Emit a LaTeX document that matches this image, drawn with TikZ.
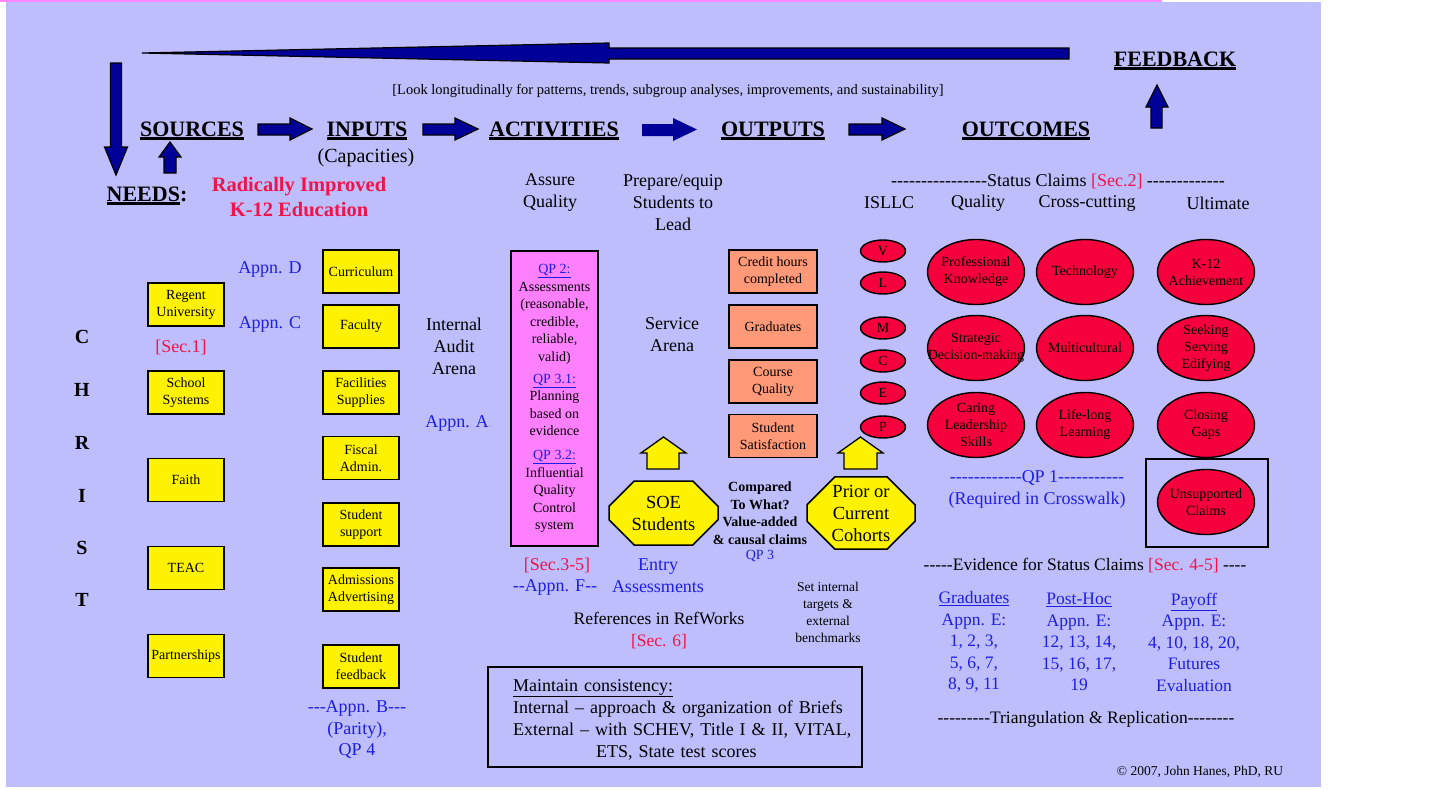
\documentclass[tikz,border=0pt]{standalone}
\usepackage{fontspec}
\setmainfont{Liberation Serif}[Ligatures=TeXOff]
\usetikzlibrary{shapes.geometric,shapes.misc}

\definecolor{lavender}{RGB}{190,190,252}
\definecolor{topline}{RGB}{255,136,255}
\definecolor{navy}{RGB}{0,0,153}
\definecolor{pinkbox}{RGB}{255,128,255}
\definecolor{salmon}{RGB}{255,153,119}
\definecolor{redfill}{RGB}{245,0,60}
\definecolor{redtext}{RGB}{240,20,75}
\definecolor{bluetext}{RGB}{30,30,225}

\newcommand{\fs}[2]{\fontsize{#1}{#2}\selectfont}
\newsavebox{\ulbox}
\newcommand{\thickul}[1]{\sbox{\ulbox}{#1}\rlap{\rule[-3.5pt]{\wd\ulbox}{2.2pt}}\usebox{\ulbox}}
\newcommand{\qp}[1]{\textcolor{bluetext}{\underline{#1}}}

\begin{document}
\begin{tikzpicture}[x=1pt, y=-1pt,
    heading/.style={anchor=base, font=\fs{22}{26}\bfseries},
    sub/.style={align=center, font=\fs{18}{22}},
    bluetx/.style={align=center, text=bluetext, font=\fs{18}{21.5}},
    redtx/.style={text=redtext, font=\fs{18}{22}},
    arrowfill/.style={fill=navy, draw=black, line width=1.2pt},
    houseup/.style={fill=yellow, draw=black, line width=1.3pt},
    ybox/.style={draw, line width=1.5pt, fill=yellow, minimum width=76, minimum height=43,
        inner sep=1pt, align=center, font=\fs{14}{17}},
    obox/.style={ybox, fill=salmon, minimum width=88},
    redell/.style={ellipse, draw, line width=1.4pt, fill=redfill, minimum width=97, minimum height=65,
        inner xsep=-16pt, inner ysep=-14pt, align=center, font=\fs{14}{17}},
    letter/.style={redell, minimum width=45, minimum height=22},
    octo/.style={chamfered rectangle, chamfered rectangle xsep=14, chamfered rectangle ysep=14,
        draw, line width=1.5pt, fill=yellow, minimum width=109, minimum height=64,
        inner xsep=0pt, inner ysep=-6pt, align=center, font=\fs{18.5}{22}},
    evid/.style={align=center, text=bluetext, font=\fs{17.5}{21.5}}
]
    \useasboundingbox (0,0) rectangle (1452,790);

    % Sfondo
    \fill[white] (0,0) rectangle (1452,790);
    \fill[lavender] (6,2) rectangle (1321,787);
    \fill[topline] (0,0) rectangle (1162,2);

    % Frecce blu
    \draw[arrowfill] (1069,48) -- (609,48) -- (609,43) -- (142,53) -- (609,63) -- (609,59) -- (1069,59) -- cycle;
    \draw[arrowfill] (110.5,63) -- (121.5,63) -- (121.5,147) -- (127.5,147) -- (116,175) -- (104.5,147) -- (110.5,147) -- cycle;
    \draw[arrowfill] (164,173) -- (164,157) -- (159,157) -- (170,142) -- (181,157) -- (176,157) -- (176,173) -- cycle;
    \draw[arrowfill] (1151,128) -- (1151,107) -- (1146,107) -- (1157,85) -- (1168,107) -- (1162,107) -- (1162,128) -- cycle;
    \draw[arrowfill] (258,124) -- (290,124) -- (290,118) -- (312,129) -- (290,140) -- (290,135) -- (258,135) -- cycle;
    \draw[arrowfill] (423,124) -- (455,124) -- (455,118) -- (478,129) -- (455,140) -- (455,135) -- (423,135) -- cycle;
    \fill[navy] (642,124) -- (673,124) -- (673,118) -- (697,129.5) -- (673,141) -- (673,136) -- (642,136) -- cycle;
    \draw[arrowfill] (849,124) -- (882,124) -- (882,118) -- (905,129) -- (882,140) -- (882,135) -- (849,135) -- cycle;

    % Titoli
    \node[heading] (sources) at (192,136) {\thickul{SOURCES}};
    \node[heading] (inputs) at (367,136) {\thickul{INPUTS}};
    \node[heading] (activities) at (554,136) {\thickul{ACTIVITIES}};
    \node[heading] (outputs) at (773,136) {\thickul{OUTPUTS}};
    \node[heading] (outcomes) at (1026,136) {\thickul{OUTCOMES}};
    \node[heading] (feedback) at (1175,66) {\thickul{FEEDBACK}};
    \node[heading] (needs) at (147,201) {\thickul{NEEDS}:};
    \node[anchor=base, font=\fs{20}{24}] (capacities) at (366,162) {(Capacities)};
    \node[align=center, text=redtext, font=\fs{20.5}{25}\bfseries] (goal) at (299,197) {Radically Improved\\K-12 Education};
    \node[font=\fs{14.5}{17}] (look) at (668,91) {[Look longitudinally for patterns, trends, subgroup analyses, improvements, and sustainability]};

    % Sottotitoli
    \node[sub] (assure) at (550,192) {Assure\\Quality};
    \node[sub] (prepare) at (673,203) {Prepare/equip\\Students to\\Lead};
    \node[sub] (status) at (1058,181) {----------------Status Claims \textcolor{redtext}{[Sec.2]} -------------};
    \node[sub] (isllc) at (889,203) {ISLLC};
    \node[sub] (quality) at (978,203) {Quality};
    \node[sub] (crosscut) at (1087,203) {Cross-cutting};
    \node[sub] (ultimate) at (1218,203) {Ultimate};

    % CHRIST
    \foreach \l/\y in {C/337,H/390,R/443,I/496,S/548,T/600}
        \node[font=\fs{20}{24}\bfseries] (christ\l) at (82,\y) {\l};

    % Sources
    \node[ybox] (regent) at (186,304.5) {Regent\\University};
    \node[ybox] (schools) at (186,392.5) {School\\Systems};
    \node[ybox] (faith) at (186,480) {Faith};
    \node[ybox] (teac) at (186,568) {TEAC};
    \node[ybox] (partners) at (186,656) {Partnerships};
    \node[redtx] (sec1) at (181,347) {[Sec.1]};

    % Inputs
    \node[ybox] (curric) at (361,271.5) {Curriculum};
    \node[ybox] (faculty) at (361,326.5) {Faculty};
    \node[ybox] (facil) at (361,392.5) {Facilities\\Supplies};
    \node[ybox] (fiscal) at (361,458) {Fiscal\\Admin.};
    \node[ybox] (support) at (361,524.5) {Student\\support};
    \node[ybox] (admiss) at (361,589.5) {Admissions\\Advertising};
    \node[ybox] (sfeed) at (361,666.5) {Student\\feedback};
    \node[bluetx] (appnD) at (270,269) {Appn. D};
    \node[bluetx] (appnC) at (270,324) {Appn. C};
    \node[bluetx] (appnB) at (357,730) {---Appn. B---\\(Parity),\\QP 4};
    \node[sub] (audit) at (454,346) {Internal\\Audit\\Arena};
    \node[bluetx] (appnA) at (457,423) {Appn. A};

    % Activities
    \node[draw, line width=1.5pt, fill=pinkbox, minimum width=87, minimum height=295, inner sep=0pt,
        align=center, font=\fs{14}{17.5}] (qpbox) at (554.5,398.5)
        {\qp{QP 2:}\\Assessments\\(reasonable,\\credible,\\reliable,\\valid)\\[4.5pt]\qp{QP 3.1:}\\Planning\\based on\\evidence\\[6.5pt]\qp{QP 3.2:}\\Influential\\Quality\\Control\\system};
    \node[redtx] (sec35) at (557,565) {[Sec.3-5]};
    \node[bluetx] (appnF) at (555,587) {--Appn. F--};
    \node[sub] (service) at (672,335) {Service\\Arena};
    \node[bluetx, font=\fs{18}{22}] (entry) at (658,576) {Entry\\Assessments};
    \node[align=center, font=\fs{17.5}{22}] (refs) at (659,631) {References in RefWorks\\\textcolor{redtext}{[Sec. 6]}};

    % Outputs
    \node[obox] (credit) at (773,271.5) {Credit hours\\completed};
    \node[obox] (grads) at (773,326.5) {Graduates};
    \node[obox] (cquality) at (773,381.5) {Course\\Quality};
    \node[obox] (satisf) at (773,436) {Student\\Satisfaction};

    % Confronti
    \draw[houseup] (647,469) -- (647,453) -- (641,453) -- (663.5,437) -- (686,453) -- (679,453) -- (679,469) -- cycle;
    \draw[houseup] (844,469) -- (844,453) -- (838,453) -- (860.5,437) -- (883,453) -- (877,453) -- (877,469) -- cycle;
    \node[octo] (soe) at (663.5,513) {SOE\\Students};
    \node[octo, minimum width=108] (cohorts) at (861,513) {Prior or\\Current\\Cohorts};
    \node[align=center, font=\fs{14}{17.5}\bfseries] (compared) at (760,513) {Compared\\To What?\\Value-added\\\& causal claims};
    \node[bluetx, font=\fs{14}{16}] (qp3) at (760,556) {QP 3};
    \node[align=center, font=\fs{13.5}{17}] (targets) at (828,612) {Set internal\\targets \&\\external\\benchmarks};

    % Coerenza
    \draw[line width=1.5pt] (488,667) rectangle (862,767);
    \node[anchor=north west, inner sep=0pt, text width=345, align=left, font=\fs{18}{22}] (consist) at (513,679)
        {\underline{Maintain consistency:}\\Internal – approach \& organization of Briefs\\External – with SCHEV, Title I \& II, VITAL,\\\hspace*{83pt}ETS, State test scores};

    % Outcomes
    \foreach \t/\y in {V/251,L/283,M/328,C/361,E/393,P/427}
        \node[letter] (isllc\t) at (883,\y) {\t};
    \node[redell] (profknow) at (976,272) {Professional\\Knowledge};
    \node[redell] (tech) at (1085,272) {Technology};
    \node[redell] (k12) at (1206,272) {K-12\\Achievement};
    \node[redell] (strategic) at (976,348) {Strategic\\Decision-making};
    \node[redell] (multi) at (1085,348) {Multicultural};
    \node[redell] (seeking) at (1206,348) {Seeking\\Serving\\Edifying};
    \node[redell] (caring) at (976,425) {Caring\\Leadership\\Skills};
    \node[redell] (lifelong) at (1085,425) {Life-long\\Learning};
    \node[redell] (closing) at (1206,425) {Closing\\Gaps};
    \draw[line width=1.5pt] (1146,459) rectangle (1268,547);
    \node[redell] (unsupported) at (1206,502) {Unsupported\\Claims};
    \node[bluetx, font=\fs{18}{22}] (qp1) at (1037,489) {------------QP 1-----------\\(Required in Crosswalk)};

    % Evidenze
    \node[font=\fs{17.5}{21.5}] (evidence) at (1085,566) {-----Evidence for Status Claims \textcolor{redtext}{[Sec. 4-5]} ----};
    \node[evid] (evgrad) at (974,642) {\underline{Graduates}\\Appn. E:\\1, 2, 3,\\5, 6, 7,\\8, 9, 11};
    \node[evid] (evpost) at (1079,642) {\underline{Post-Hoc}\\Appn. E:\\12, 13, 14,\\15, 16, 17,\\19};
    \node[evid] (evpay) at (1194,642) {\underline{Payoff}\\Appn. E:\\4, 10, 18, 20,\\Futures\\Evaluation};
    \node[font=\fs{17.5}{21.5}] (triang) at (1086,719) {---------Triangulation \& Replication--------};
    \node[font=\fs{13.5}{16}] (copyr) at (1200,772) {© 2007, John Hanes, PhD, RU};
\end{tikzpicture}
\end{document}
